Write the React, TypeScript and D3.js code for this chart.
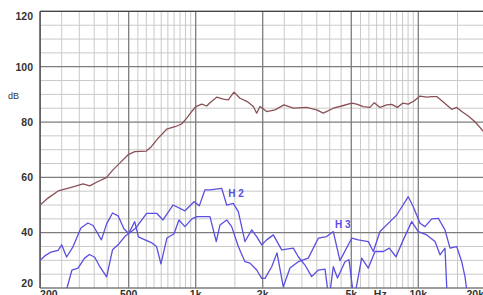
import React from "react";
import * as d3 from "d3";

const width = 483;
const height = 295;

// main response (Hz / dB)
const respFreq = [200, 217, 241, 276, 312, 334, 364, 397, 425, 463, 496, 532, 600, 632, 677, 741, 807, 865, 911, 959, 1003, 1064, 1121, 1159, 1243, 1330, 1401, 1486, 1581, 1705, 1815, 1879, 1945, 2084, 2271, 2493, 2745, 3152, 3496, 3743, 4151, 4528, 5021, 5288, 5661, 6067, 6344, 6729, 7211, 7595, 8049, 8510, 9018, 9565, 10180, 10910, 11490, 12100, 12520, 13420, 14130, 14880, 15670, 16770, 17980, 19470, 20000];
const respDb = [50.0, 52.5, 55.1, 56.4, 57.6, 56.9, 58.5, 59.9, 62.7, 65.7, 68.1, 69.3, 69.5, 71.1, 74.1, 77.4, 78.3, 79.3, 81.4, 83.8, 85.6, 86.5, 85.8, 87.0, 89.0, 88.3, 88.0, 90.8, 88.6, 87.4, 85.6, 83.2, 85.6, 83.8, 84.4, 86.2, 85.0, 85.3, 84.4, 83.2, 85.0, 85.8, 86.8, 86.5, 85.6, 85.3, 87.0, 85.3, 86.2, 86.4, 85.3, 86.8, 86.5, 87.6, 89.4, 89.0, 89.2, 89.2, 88.2, 86.2, 84.6, 85.3, 83.8, 82.2, 80.1, 76.9, 75.8];

// 2nd harmonic
const h2Freq = [259, 278, 296, 317, 333, 352, 371, 398, 423, 448, 480, 500, 539, 602, 668, 713, 791, 895, 983, 1038, 1101, 1159, 1309, 1378, 1475, 1554, 1665, 1785, 1879, 1980, 2084, 2232, 2434, 2745, 2890, 3097, 3320, 3554, 3810, 3971, 4151, 4335, 4685, 4883, 5142, 5568, 5962, 6391, 6962, 7407, 7941, 8561, 9341, 10000, 10910, 11890, 12520, 13180, 13500];
const h2Db = [17.5, 26.5, 27.2, 30.8, 32.1, 31.1, 27.7, 24.0, 33.8, 35.6, 38.6, 39.7, 41.7, 47.0, 47.0, 44.6, 50.0, 47.9, 51.2, 49.7, 55.5, 55.5, 56.0, 50.0, 50.6, 47.6, 36.8, 41.0, 38.6, 35.6, 37.4, 39.2, 33.8, 34.4, 31.3, 28.3, 24.1, 26.5, 26.8, 15.7, 27.7, 23.6, 29.5, 30.2, 15.7, 30.8, 27.2, 33.2, 33.2, 34.4, 31.3, 37.4, 44.0, 40.4, 39.2, 36.8, 32.0, 34.4, 15.7];

// 3rd harmonic
const h3Freq = [200, 210, 224, 241, 250, 263, 281, 305, 328, 346, 377, 398, 423, 448, 476, 500, 532, 553, 592, 636, 667, 698, 743, 799, 841, 895, 962, 1013, 1159, 1237, 1286, 1378, 1451, 1554, 1665, 1754, 1879, 1980, 2048, 2195, 2319, 2475, 2652, 2890, 3205, 3554, 3877, 4151, 4448, 5021, 5376, 5962, 6279, 6729, 7462, 8000, 9018, 9495, 10180, 10720, 11490, 12300, 13180, 13880, 14880, 15670, 16210, 16720];
const h3Db = [30.0, 31.6, 33.0, 33.6, 35.6, 31.2, 34.9, 41.7, 43.5, 42.6, 37.4, 43.2, 47.1, 46.1, 41.4, 39.7, 44.0, 38.5, 37.4, 36.3, 35.0, 28.7, 38.1, 39.6, 44.6, 42.2, 45.0, 45.8, 45.8, 36.8, 42.8, 44.6, 42.2, 35.0, 29.5, 29.0, 26.5, 23.5, 23.5, 27.7, 32.7, 20.4, 27.2, 29.5, 30.8, 38.0, 38.6, 40.4, 29.9, 38.0, 37.4, 36.8, 33.2, 40.4, 44.0, 46.4, 53.0, 49.4, 43.4, 42.2, 45.0, 45.2, 41.0, 34.4, 35.0, 29.5, 24.1, 15.7];

const yTicks = [20, 40, 60, 80, 100, 120];
const yMinor = [25, 30, 35, 45, 50, 55, 65, 70, 75, 85, 90, 95, 105, 110, 115];
const xMajor = [200, 500, 1000, 2000, 5000, 10000, 20000];
const xLabels = ["200", "500", "1k", "2k", "5k", "10k", "20k"];
const xMinor = [250, 300, 350, 400, 450, 550, 600, 650, 700, 750, 800, 850, 900, 950, 1500, 2500, 3000, 3500, 4000, 4500, 5500, 6000, 6500, 7000, 7500, 8000, 8500, 9000, 9500, 15000];

const x = d3.scaleLog().domain([200, 20000]).range([40.1, 485.3]);
const y = d3.scaleLinear().domain([20, 120]).range([288, 11.4]);

const line = d3.line<[number, number]>()
    .x(d => x(d[0]))
    .y(d => y(d[1]));

const zip = (f: number[], v: number[]) => f.map((d, i) => [d, v[i]] as [number, number]);

const font = "'Liberation Sans', Arial, sans-serif";
const blue = "#5a4fe0";

export default function App() {
    const [x0, x1] = x.range();
    const [y1, y0] = y.range();
    return (
        <svg width={width} height={height} style={{ position: "fixed", left: 0, top: 0, background: "#fff" }}>
            <defs>
                <clipPath id="plot">
                    <rect x={x0} y={y0} width={x1 - x0} height={y1 - y0} />
                </clipPath>
            </defs>
            <g>
                {yMinor.map(v => (
                    <line key={"ym" + v} x1={x0} x2={x1} y1={y(v)} y2={y(v)} stroke="#c9c9c9" strokeWidth={1} />
                ))}
                {xMinor.map(v => (
                    <line key={"xm" + v} x1={x(v)} x2={x(v)} y1={y0} y2={y1} stroke="#c9c9c9" strokeWidth={1} />
                ))}
                {yTicks.map(v => (
                    <line key={"yM" + v} x1={x0} x2={x1} y1={y(v)} y2={y(v)} stroke="#7c7c7c" strokeWidth={1.3} />
                ))}
                {xMajor.map(v => (
                    <line key={"xM" + v} x1={x(v)} x2={x(v)} y1={y0} y2={y1} stroke="#7c7c7c" strokeWidth={1.3} />
                ))}
                <line x1={x0} x2={x1} y1={y0} y2={y0} stroke="#444" strokeWidth={1.4} />
                <line x1={x0} x2={x0} y1={y0} y2={y1} stroke="#555" strokeWidth={1.4} />
            </g>
            <g clipPath="url(#plot)" fill="none" strokeLinejoin="round">
                <path d={line(zip(h3Freq, h3Db)) || ""} stroke={blue} strokeWidth={1.3} />
                <path d={line(zip(h2Freq, h2Db)) || ""} stroke={blue} strokeWidth={1.3} />
                <path d={line(zip(respFreq, respDb)) || ""} stroke="#8a5056" strokeWidth={1.3} />
            </g>
            <g fontFamily={font} fontWeight="bold" fontSize={10} fill={blue}>
                <text x={x(1400)} y={y(52.8)}>H 2</text>
                <text x={x(4220)} y={y(41.7)}>H 3</text>
            </g>
            <g fontFamily={font} fontWeight="bold" fontSize={10.5} fill="#333">
                {yTicks.map(v => (
                    <text key={"yl" + v} x={33} y={Math.min(Math.max(y(v), 16), 283) + 3.8} textAnchor="end">{v}</text>
                ))}
                <text x={8} y={99} fontSize={9} fontWeight="normal">dB</text>
                {xMajor.map((v, i) => (
                    <text key={"xl" + v} x={i === 0 ? x0 : i === xMajor.length - 1 ? 484 : x(v)} y={298}
                        textAnchor={i === 0 ? "start" : i === xMajor.length - 1 ? "end" : "middle"}>{xLabels[i]}</text>
                ))}
                <text x={x(6750)} y={298} textAnchor="middle">Hz</text>
            </g>
        </svg>
    );
}
